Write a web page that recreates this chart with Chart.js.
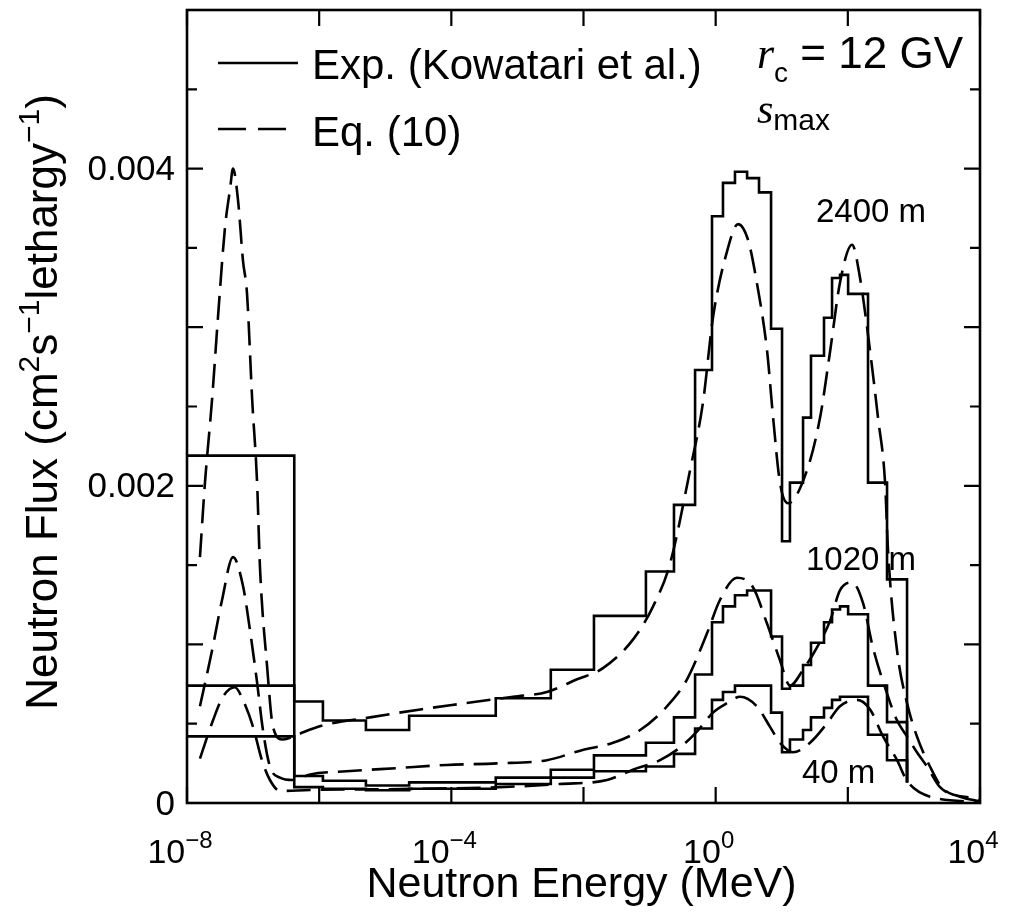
<!DOCTYPE html>
<html lang="en">
<head>
  <meta charset="UTF-8">
  <title>Neutron Flux vs Neutron Energy</title>
  <script src="https://cdn.jsdelivr.net/npm/chart.js"></script>
  <style>
    body { margin: 0; background: #fff; }
    #wrap { width: 1015px; height: 913px; }
  </style>
</head>
<body>
<div id="wrap"><canvas id="fluxChart"></canvas></div>
<script>
  // measured spectra (Kowatari et al.), bin edges in MeV, flux per bin
  const binEdges = [1e-8, 4.2e-7, 1.14e-6, 5.1e-6, 2.3e-5, 4.7e-4, 3.2e-3, 0.0144, 0.088, 0.234, 0.488, 0.88, 1.29, 1.96,
    2.99, 4.53, 6.89, 10.1, 13.3, 21.0, 27.7, 43.6, 57.7, 76.2, 101, 202, 392, 787];
  const exp2400 = [0.00219, 0.00064, 0.00052, 0.00046, 0.00055, 0.00066, 0.00084, 0.00118, 0.00146, 0.00188, 0.00273,
    0.00370, 0.00391, 0.00398, 0.00394, 0.00385, 0.00299, 0.00165, 0.00202, 0.00243, 0.00282, 0.00306, 0.00331,
    0.00333, 0.00321, 0.00202, 0.00141];
  const exp1020 = [0.00074, 0.00017, 0.00014, 0.00011, 0.00013, 0.00016, 0.00021, 0.00030, 0.00038, 0.00054, 0.00081,
    0.00114, 0.00124, 0.00131, 0.00134, 0.00134, 0.00105, 0.00072, 0.00074, 0.00087, 0.00101, 0.00114, 0.00122,
    0.00124, 0.00119, 0.00074, 0.00051];
  const exp40 = [0.00042, 0.00010, 0.00009, 0.00008, 0.00009, 0.00012, 0.00016, 0.00020, 0.00023, 0.00031, 0.00047,
    0.00065, 0.00070, 0.00074, 0.00074, 0.00074, 0.00057, 0.00032, 0.00040, 0.00046, 0.00054, 0.00060, 0.00065,
    0.00067, 0.00067, 0.00043, 0.00027];
  const histTail = 0.00013;

  // Eq. (10) curves
  const eqE2400 = [1.57e-8, 1.87e-8, 2.39e-8, 2.94e-8, 3.76e-8, 4.48e-8, 4.97e-8, 5.92e-8, 7.03e-8, 8.1e-8, 9.7e-8,
    1.15e-7, 1.27e-7, 1.63e-7, 2.0e-7, 2.84e-7, 4.6e-7, 8.1e-7, 1.14e-6, 5.9e-6, 3.4e-5, 1.7e-4, 8.6e-4, 2.8e-3,
    8.0e-3, 0.0197, 0.056, 0.113, 0.204, 0.41, 0.64, 0.91, 1.49, 2.18, 3.09, 4.2, 6.0, 7.4, 9.4, 12.4, 24.2, 38, 54,
    76, 116, 153, 217, 286, 366, 406, 556, 787, 1110, 1750, 2760, 7850, 1e4];
  const eqF2400 = [0.00155, 0.00202, 0.00254, 0.00306, 0.00363, 0.00387, 0.00400, 0.00380, 0.00342, 0.00321, 0.00254,
    0.00202, 0.00149, 0.00086, 0.00048, 0.00040, 0.00043, 0.00047, 0.00049, 0.00054, 0.00059, 0.00063, 0.00067,
    0.00070, 0.00078, 0.00085, 0.00103, 0.00124, 0.00151, 0.00210, 0.00252, 0.00306, 0.00348, 0.00365, 0.00355,
    0.00328, 0.00285, 0.00243, 0.00202, 0.00189, 0.00210, 0.00243, 0.00285, 0.00328, 0.00352, 0.00331, 0.00285,
    0.00243, 0.00202, 0.00159, 0.00096, 0.00063, 0.00042, 0.00023, 0.00009, 0.00003, 0.00002];
  const eqE1020 = [1.57e-8, 2.39e-8, 3.39e-8, 4.97e-8, 7.03e-8, 8.97e-8, 1.15e-7, 1.41e-7, 1.8e-7, 2.55e-7, 4.0e-7,
    7.3e-7, 2.6e-6, 1.5e-5, 8.6e-5, 4.9e-4, 2.8e-3, 8.9e-3, 0.028, 0.072, 0.184, 0.369, 0.74, 1.16, 2.1, 3.67, 6.0,
    9.4, 13.3, 21, 34, 54, 76, 116, 170, 240, 392, 556, 787, 1110, 1580, 2480, 4990, 1e4];
  const eqF1020 = [0.00061, 0.00096, 0.00128, 0.00155, 0.00137, 0.00109, 0.00076, 0.00046, 0.00023, 0.00016, 0.000145,
    0.00018, 0.00020, 0.00022, 0.00024, 0.00025, 0.00027, 0.00033, 0.00038, 0.00046, 0.00061, 0.00078, 0.00107,
    0.00128, 0.00142, 0.00136, 0.00113, 0.00090, 0.00074, 0.00084, 0.00098, 0.00115, 0.00134, 0.00139, 0.00126,
    0.00098, 0.00069, 0.00052, 0.00042, 0.00032, 0.00023, 0.00010, 0.00004, 0.00001];
  const eqE40 = [1.57e-8, 2.47e-8, 3.5e-8, 5.3e-8, 7.03e-8, 1.0e-7, 1.36e-7, 1.8e-7, 2.55e-7, 7.3e-7, 1.67e-5, 5.5e-4,
    4.4e-3, 0.0227, 0.056, 0.144, 0.289, 0.52, 0.91, 1.49, 2.34, 4.2, 6.65, 9.4, 14.8, 26.8, 48, 76, 138, 217, 341,
    556, 787, 1750, 1e4];
  const eqF40 = [0.00028, 0.00052, 0.00067, 0.00073, 0.00065, 0.00048, 0.00027, 0.000145, 0.000076, 0.000082, 0.000088,
    0.00010, 0.00012, 0.000145, 0.00021, 0.00027, 0.00035, 0.00045, 0.00057, 0.00063, 0.00067, 0.00061, 0.00048,
    0.00038, 0.00032, 0.00038, 0.00050, 0.00061, 0.00065, 0.00059, 0.00042, 0.00027, 0.00014, 0.00004, 0.000006];

  // axis ticks
  const xTickValues = [1e-8, 1e-6, 1e-4, 1e-2, 1e0, 1e2, 1e4];
  const xLabelExps = ['\u22128', '\u22124', '0', '4'];
  const xLabelValues = [1e-8, 1e-4, 1e0, 1e4];
  const yTickValues = [0.0005, 0.001, 0.0015, 0.002, 0.0025, 0.003, 0.0035, 0.004, 0.0045];
  const yLabelValues = [0, 0.002, 0.004];
  const yLabels = ['0', '0.002', '0.004'];

  // altitude labels
  const altLabels = ['2400 m', '1020 m', '40 m'];
  const altLabelPos = [[816, 222], [806, 570], [802, 783]];

  const sans = '"Liberation Sans", Arial, sans-serif';
  const serif = '"Liberation Serif", "Times New Roman", serif';

  function histPoints(vals) {
    const pts = vals.map((v, i) => ({x: binEdges[i], y: v}));
    const last = binEdges[binEdges.length - 1];
    pts.push({x: last, y: vals[vals.length - 1]});
    pts.push({x: last, y: histTail});
    return pts;
  }
  function curvePoints(es, fs) {
    return es.map((e, i) => ({x: e, y: fs[i]}));
  }

  function histSet(vals) {
    return {data: histPoints(vals), borderColor: '#000', borderWidth: 2.6, stepped: 'before',
      pointRadius: 0, fill: false, borderJoinStyle: 'miter'};
  }
  function eqSet(es, fs) {
    return {data: curvePoints(es, fs), borderColor: '#000', borderWidth: 2.6, borderDash: [24, 10],
      cubicInterpolationMode: 'monotone', pointRadius: 0, fill: false};
  }

  function richWidth(ctx, parts) {
    let w = 0;
    parts.forEach(p => { ctx.font = p.font; w += ctx.measureText(p.t).width; });
    return w;
  }
  function drawRich(ctx, parts, x, y, align) {
    const w = richWidth(ctx, parts);
    let cx = align === 'center' ? x - w / 2 : (align === 'right' ? x - w : x);
    ctx.textAlign = 'left';
    parts.forEach(p => {
      ctx.font = p.font;
      ctx.fillText(p.t, cx, y + (p.dy || 0));
      cx += ctx.measureText(p.t).width;
    });
  }

  const frame = {
    id: 'frame',
    afterDraw(chart) {
      const {ctx, chartArea: a, scales: {x, y}} = chart;
      ctx.save();
      ctx.strokeStyle = '#000';
      ctx.fillStyle = '#000';
      ctx.lineWidth = 2.6;
      ctx.strokeRect(a.left, a.top, a.right - a.left, a.bottom - a.top);

      ctx.lineWidth = 2.2;
      ctx.beginPath();
      xTickValues.forEach(v => {
        const px = x.getPixelForValue(v);
        ctx.moveTo(px, a.bottom); ctx.lineTo(px, a.bottom - 16);
        ctx.moveTo(px, a.top); ctx.lineTo(px, a.top + 16);
      });
      yTickValues.forEach((v, i) => {
        const py = y.getPixelForValue(v);
        const len = i % 2 === 1 ? 16 : 10;
        ctx.moveTo(a.left, py); ctx.lineTo(a.left + len, py);
        ctx.moveTo(a.right, py); ctx.lineTo(a.right - len, py);
      });
      ctx.stroke();

      // tick labels
      ctx.textBaseline = 'middle';
      ctx.textAlign = 'right';
      ctx.font = '35px ' + sans;
      yLabelValues.forEach((v, i) => ctx.fillText(yLabels[i], 175, y.getPixelForValue(v) + 2));

      ctx.textBaseline = 'alphabetic';
      xLabelValues.forEach((v, i) => {
        drawRich(ctx, [
          {t: '10', font: '34px ' + sans},
          {t: xLabelExps[i], font: '24px ' + sans, dy: -15}
        ], x.getPixelForValue(v) - 7, 863, 'center');
      });

      // axis titles
      drawRich(ctx, [{t: 'Neutron Energy (MeV)', font: '43px ' + sans}], (a.left + a.right) / 2 - 2, 897, 'center');
      ctx.save();
      ctx.translate(57, 402);
      ctx.rotate(-Math.PI / 2);
      drawRich(ctx, [
        {t: 'Neutron Flux (cm', font: '44px ' + sans},
        {t: '2', font: '30px ' + sans, dy: -18},
        {t: 's', font: '44px ' + sans},
        {t: '\u22121', font: '30px ' + sans, dy: -18},
        {t: 'lethargy', font: '44px ' + sans},
        {t: '\u22121', font: '30px ' + sans, dy: -18},
        {t: ')', font: '44px ' + sans}
      ], 0, 0, 'center');
      ctx.restore();

      // legend
      ctx.lineWidth = 2.6;
      ctx.beginPath();
      ctx.moveTo(218, 63); ctx.lineTo(298, 63);
      ctx.stroke();
      ctx.setLineDash([28, 12]);
      ctx.beginPath();
      ctx.moveTo(218, 129); ctx.lineTo(298, 129);
      ctx.stroke();
      ctx.setLineDash([]);
      drawRich(ctx, [{t: 'Exp. (Kowatari et al.)', font: '42px ' + sans}], 312, 79, 'left');
      drawRich(ctx, [{t: 'Eq. (10)', font: '42px ' + sans}], 312, 146, 'left');

      // cutoff rigidity and depth note
      drawRich(ctx, [
        {t: 'r', font: 'italic 44px ' + serif},
        {t: 'c', font: '28px ' + sans, dy: 14},
        {t: ' = 12 GV', font: '44px ' + sans}
      ], 757, 68, 'left');
      drawRich(ctx, [
        {t: 's', font: 'italic 42px ' + serif},
        {t: 'max', font: '30px ' + sans, dy: 7}
      ], 757, 123, 'left');

      altLabels.forEach((t, i) => {
        drawRich(ctx, [{t: t, font: '33px ' + sans}], altLabelPos[i][0], altLabelPos[i][1], 'left');
      });
      ctx.restore();
    }
  };

  new Chart(document.getElementById('fluxChart'), {
    type: 'line',
    data: {
      datasets: [
        histSet(exp2400), histSet(exp1020), histSet(exp40),
        eqSet(eqE2400, eqF2400), eqSet(eqE1020, eqF1020), eqSet(eqE40, eqF40)
      ]
    },
    options: {
      responsive: true,
      maintainAspectRatio: false,
      animation: false,
      layout: {padding: {left: 187, right: 35, top: 10, bottom: 110}},
      plugins: {legend: {display: false}, tooltip: {enabled: false}},
      scales: {
        x: {type: 'logarithmic', min: 1e-8, max: 1e4, display: false},
        y: {type: 'linear', min: 0, max: 0.005, display: false}
      }
    },
    plugins: [frame]
  });
</script>
</body>
</html>
